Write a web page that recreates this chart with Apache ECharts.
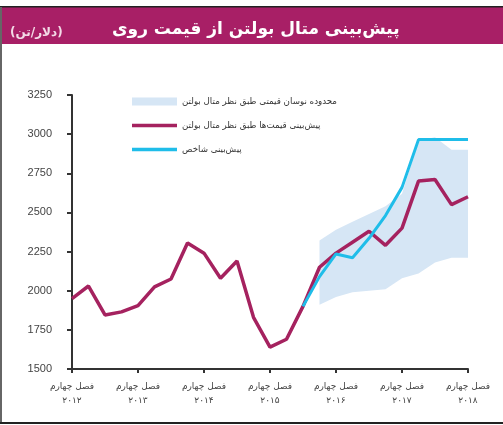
<!DOCTYPE html>
<html>
<head>
<meta charset="utf-8">
<script src="https://cdn.jsdelivr.net/npm/echarts@6/dist/echarts.min.js"></script>
<style>
  html, body { margin: 0; padding: 0; background: #fff; }
  #main { width: 503px; height: 425px; }
</style>
</head>
<body>
<div id="main"></div>
<script>
// سال‌ها و فصل‌ها (از فصل چهارم ۲۰۱۲ تا فصل چهارم ۲۰۱۸)
var years = ['۲۰۱۲', '۲۰۱۳', '۲۰۱۴', '۲۰۱۵', '۲۰۱۶', '۲۰۱۷', '۲۰۱۸'];
var quarterNames = ['فصل اول', 'فصل دوم', 'فصل سوم', 'فصل چهارم'];

// قیمت روی و پیش‌بینی متال بولتن (دلار/تن)
var metalBulletin = [1950, 2030, 1845, 1865, 1905, 2025, 2075, 2305, 2240, 2080, 2190, 1830, 1640,
  1690, 1900, 2150, 2240, 2310, 2380, 2290, 2400, 2700, 2710, 2550, 2600];
// پیش‌بینی شاخص
var indexForecast = [null, null, null, null, null, null, null, null, null, null, null, null, null,
  null, 1900, 2090, 2235, 2210, 2335, 2480, 2660, 2965, 2965, 2965, 2965];
// محدوده نوسان قیمتی
var rangeLow = [null, null, null, null, null, null, null, null, null, null, null, null, null,
  null, null, 1910, 1960, 1990, 2000, 2010, 2080, 2110, 2180, 2210, 2210];
var rangeHigh = [null, null, null, null, null, null, null, null, null, null, null, null, null,
  null, null, 2320, 2390, 2440, 2490, 2540, 2620, 2960, 2980, 2900, 2900];

var yTicks = [1500, 1750, 2000, 2250, 2500, 2750, 3000, 3250];

var nameBand = 'محدوده نوسان قیمتی طبق نظر متال بولتن';
var nameMB = 'پیش‌بینی قیمت‌ها طبق نظر متال بولتن';
var nameIdx = 'پیش‌بینی شاخص';

var categories = [quarterNames[3] + '\n' + years[0]];
for (var y = 1; y < years.length; y++) {
  for (var q = 0; q < 4; q++) categories.push(quarterNames[q] + '\n' + years[y]);
}

var rangeDiff = rangeHigh.map(function (v, i) {
  return v == null ? null : v - rangeLow[i];
});

var magenta = '#a5225f';
var cyan = '#1fbde9';
var bandColor = '#d6e6f5';
var font = 'DejaVu Sans';
// خط افقی برای نماد راهنما
var lineIcon = 'path://M0,0h45v3.5h-45z';

var myChart = echarts.init(document.getElementById('main'));
var option = {
  animation: false,
  backgroundColor: '#fff',
  graphic: [
    { type: 'rect', shape: { x: 0, y: 7, width: 503, height: 37 }, style: { fill: '#a81f66' }, z: 0 },
    { type: 'rect', shape: { x: 0, y: 6, width: 503, height: 1.5 }, style: { fill: '#222' }, z: 1 },
    { type: 'rect', shape: { x: 0, y: 7, width: 2, height: 417 }, style: { fill: '#666' }, z: 1 },
    { type: 'rect', shape: { x: 0, y: 422, width: 503, height: 2 }, style: { fill: '#222' }, z: 1 }
  ],
  title: [
    {
      text: 'پیش‌بینی متال بولتن از قیمت روی',
      left: 107, top: 16,
      textStyle: { color: '#fff', fontSize: 17, fontWeight: 'bold', fontFamily: font }
    },
    {
      text: '(دلار/تن)',
      left: 5, top: 22,
      textStyle: { color: '#f3dbe7', fontSize: 12, fontWeight: 'bold', fontFamily: font }
    }
  ],
  legend: {
    orient: 'vertical',
    left: 132, top: 97, padding: 0,
    itemWidth: 45, itemHeight: 8, itemGap: 15,
    textStyle: { fontSize: 8.7, color: '#333', fontFamily: font },
    data: [
      { name: nameBand, icon: 'rect' },
      { name: nameMB, icon: lineIcon },
      { name: nameIdx, icon: lineIcon }
    ]
  },
  grid: { left: 72, right: 35, top: 95, bottom: 56 },
  xAxis: {
    type: 'category',
    boundaryGap: false,
    data: categories,
    axisLine: { lineStyle: { color: '#333', width: 2 } },
    axisTick: { interval: 3, length: 4, lineStyle: { color: '#333', width: 2 } },
    axisLabel: {
      interval: 3, margin: 11, lineHeight: 14,
      fontSize: 9, color: '#444', fontFamily: font
    },
    splitLine: { show: false }
  },
  yAxis: {
    type: 'value',
    min: 1500, max: 3250, interval: 250,
    axisLine: { show: true, lineStyle: { color: '#333', width: 2 } },
    axisTick: { show: true, length: 5, lineStyle: { color: '#333', width: 2 } },
    axisLabel: {
      margin: 20, fontSize: 11, color: '#444',
      fontFamily: 'Liberation Sans',
      formatter: function (v) { return yTicks.indexOf(v) >= 0 ? String(v) : ''; }
    },
    splitLine: { show: false }
  },
  series: [
    {
      name: 'low', type: 'line', stack: 'band', data: rangeLow,
      symbol: 'none', lineStyle: { opacity: 0 }, silent: true, z: 1
    },
    {
      name: nameBand, type: 'line', stack: 'band', data: rangeDiff,
      symbol: 'none', lineStyle: { opacity: 0 },
      itemStyle: { color: bandColor },
      areaStyle: { color: bandColor, opacity: 1 }, z: 1
    },
    {
      name: nameMB, type: 'line', data: metalBulletin,
      symbol: 'none', itemStyle: { color: magenta },
      lineStyle: { color: magenta, width: 3.5 }, z: 3
    },
    {
      name: nameIdx, type: 'line', data: indexForecast,
      symbol: 'none', itemStyle: { color: cyan },
      lineStyle: { color: cyan, width: 3 }, z: 4
    }
  ]
};
myChart.setOption(option);
window.onresize = myChart.resize;
</script>
</body>
</html>
